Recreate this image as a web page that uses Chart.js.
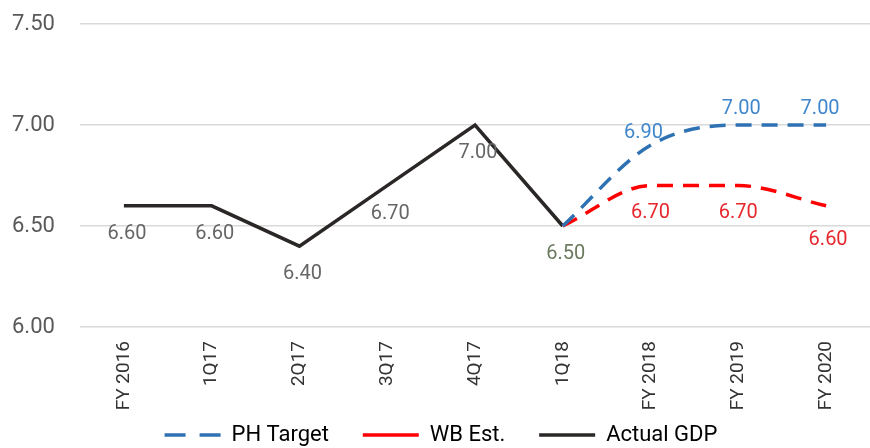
<!DOCTYPE html>
<html><head><meta charset="utf-8">
<script src="https://cdn.jsdelivr.net/npm/chart.js@4.4.1/dist/chart.umd.min.js"></script>
<style>html,body{margin:0;padding:0;background:#fff;}#wrap{width:870px;height:448px;}</style>
</head><body><div id="wrap"><canvas id="c" width="870" height="448"></canvas></div>
<script>
const categories = ['FY 2016','1Q17','2Q17','3Q17','4Q17','1Q18','FY 2018','FY 2019','FY 2020'];
const phTarget = [null,null,null,null,null,6.5,6.9,7.0,7.0];
const wbEst = [null,null,null,null,null,6.5,6.7,6.7,6.6];
const actualGdp = [6.6,6.6,6.4,6.7,7.0,6.5,null,null,null];
const yTicks = [6.0,6.5,7.0,7.5];

const FONT = '"Roboto", sans-serif';

const labelPlugin = {
  id: 'valueLabels',
  afterDatasetsDraw(chart) {
    const ctx = chart.ctx;
    ctx.save();
    ctx.font = '20px ' + FONT;
    ctx.textAlign = 'center';
    ctx.textBaseline = 'middle';
    chart.data.datasets.forEach((ds, di) => {
      const meta = chart.getDatasetMeta(di);
      ds.data.forEach((v, i) => {
        if (v === null) return;
        if (ds.skipLabel && ds.skipLabel(i)) return;
        const el = meta.data[i];
        const off = ds.labelOffset(i);
        ctx.fillStyle = ds.labelColor(i);
        ctx.fillText(v.toFixed(2), el.x + off[0], el.y + off[1]);
      });
    });
    ctx.restore();
  }
};

new Chart(document.getElementById('c'), {
  type: 'line',
  data: {
    labels: categories,
    datasets: [
      {
        label: 'PH Target', data: phTarget, borderColor: '#2e72b3', backgroundColor: '#2e72b3',
        borderWidth: 3.5, borderDash: [16, 10], pointRadius: 0, cubicInterpolationMode: 'monotone',
        skipLabel: i => i === 5,
        labelOffset: i => i === 6 ? [-7, -12] : (i === 7 ? [3, -16] : [-6, -16]),
        labelColor: () => '#3f86cc',
        legendDash: [21, 14], legendGap: '    '
      },
      {
        label: 'WB Est.', data: wbEst, borderColor: '#ff0000', backgroundColor: '#ff0000',
        borderWidth: 3.5, borderDash: [16, 10], pointRadius: 0, cubicInterpolationMode: 'monotone',
        skipLabel: i => i === 5,
        labelOffset: i => i === 8 ? [2, 34] : [0, 27],
        labelColor: () => '#e8262d',
        legendDash: [], legendGap: '    '
      },
      {
        label: 'Actual GDP', data: actualGdp, borderColor: '#2b2727', backgroundColor: '#2b2727',
        borderWidth: 3.5, pointRadius: 0, tension: 0,
        labelOffset: i => [3, 28],
        labelColor: i => i === 5 ? '#6b7a5e' : '#666666',
        legendDash: [], legendGap: ''
      }
    ]
  },
  options: {
    responsive: false,
    animation: false,
    layout: { padding: { top: 24, right: 0, left: 12, bottom: -8 } },
    plugins: {
      tooltip: { enabled: false },
      legend: {
        position: 'bottom',
        labels: {
          font: { family: FONT, size: 22 },
          color: '#222',
          usePointStyle: true,
          pointStyle: 'line',
          pointStyleWidth: 56,
          boxHeight: 3,
          padding: 12,
          generateLabels(chart) {
            return chart.data.datasets.map((ds, i) => ({
              text: ds.label + ds.legendGap,
              fillStyle: ds.borderColor,
              strokeStyle: ds.borderColor,
              lineWidth: 3.5,
              lineDash: ds.legendDash,
              pointStyle: 'line',
              hidden: false,
              datasetIndex: i
            }));
          }
        }
      }
    },
    scales: {
      x: {
        offset: true,
        grid: { display: false, drawTicks: false },
        border: { display: false },
        ticks: {
          font: { family: FONT, size: 19 },
          color: '#333',
          maxRotation: 90, minRotation: 90, padding: 14
        },
        afterFit(s) { s.height = 85; }
      },
      y: {
        min: 6.0, max: 7.5,
        afterBuildTicks(s) { s.ticks = yTicks.map(v => ({ value: v })); },
        grid: { color: '#d9d9d9', lineWidth: 1.5, drawTicks: false },
        border: { display: false },
        ticks: {
          font: { family: FONT, size: 22 },
          color: '#595959',
          padding: 0,
          crossAlign: 'far',
          callback: v => Number(v).toFixed(2)
        },
        afterFit(s) { s.width = 68; }
      }
    }
  },
  plugins: [labelPlugin]
});
</script></body></html>
